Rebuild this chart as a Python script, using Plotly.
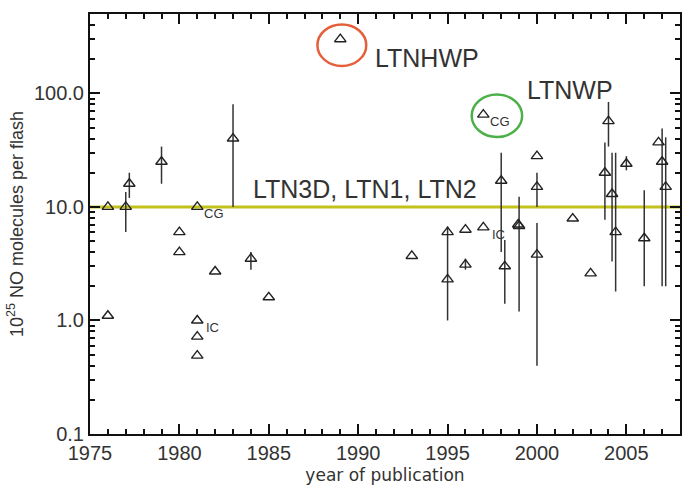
import math
import plotly.graph_objects as go

# ---- data ----
years = [1976.0, 1976.0, 1977.0, 1977.2, 1979.0, 1980.0, 1980.0, 1981.0, 1981.0, 1981.0,
         1981.0, 1982.0, 1983.0, 1984.0, 1985.0, 1989.0, 1993.0, 1995.0, 1995.0, 1996.0,
         1996.0, 1997.0, 1997.0, 1998.0, 1998.2, 1999.0, 1998.95, 2000.0, 2000.0, 2000.0,
         2002.0, 2003.0, 2003.8, 2004.0, 2004.2, 2004.4, 2005.0, 2006.0, 2006.8, 2007.0,
         2007.2]
values = [10, 1.1, 10, 16, 25, 6.0, 4.0, 10, 1.0, 0.72,
          0.49, 2.7, 40, 3.5, 1.6, 300, 3.7, 6.0, 2.3, 6.3,
          3.1, 6.6, 65, 17, 3.0, 6.8, 7.0, 28, 15, 3.8,
          7.9, 2.6, 20, 57, 13, 6.0, 24, 5.3, 37, 25,
          15]
low = [None, None, 6.0, 12, 16, None, None, None, None, None,
       None, None, 10, 2.8, None, None, None, None, 1.0, None,
       2.8, None, None, 4.0, 1.4, 1.2, None, None, 10, 0.4,
       None, None, 7.7, 34, 3.3, 1.8, 21, 2.0, None, 2.0,
       2.0]
high = [None, None, 13.5, 20, 34, None, None, None, None, None,
        None, None, 80, 4.0, None, None, None, None, 6.7, None,
        3.5, None, None, 30, 5.1, 12.3, None, None, 20, 7.2,
        None, None, 37, 84, 30, 30, 28, 14, None, 49,
        41]
tags = [""] * len(years)
tags[7] = "CG"
tags[8] = "IC"
tags[21] = "IC"
tags[22] = "CG"

reference_value = 10.0
x_range = [1975, 2008]
y_range_vals = [0.1, 500]
x_ticks = [1975, 1980, 1985, 1990, 1995, 2000, 2005]
y_ticks = [0.1, 1, 10, 100]
y_ticktext = ["0.1", "1.0", "10.0", "100.0"]
y_minor = [m * d for d in (0.1, 1, 10, 100) for m in range(2, 10) if m * d <= 500]

# ---- figure ----
err_plus = [(h - v) if h is not None else 0 for v, h in zip(values, high)]
err_minus = [(v - l) if l is not None else 0 for v, l in zip(values, low)]

fig = go.Figure()
fig.add_trace(go.Scatter(
    x=x_range, y=[reference_value, reference_value], mode="lines",
    line=dict(color="#c3c21c", width=3), hoverinfo="skip", showlegend=False))
fig.add_trace(go.Scatter(
    x=years, y=values, mode="markers",
    marker=dict(symbol="triangle-up-open", size=10, color="#222222",
                line=dict(width=1.4, color="#222222")),
    error_y=dict(type="data", symmetric=False, array=err_plus, arrayminus=err_minus,
                 width=0, thickness=1.5, color="#333333"),
    showlegend=False))

ann = []
for x, v, t in zip(years, values, tags):
    if t:
        ann.append(dict(x=x, y=math.log10(v), xref="x", yref="y", text=t, showarrow=False,
                        xanchor="center", yanchor="middle", xshift=17 if t == "CG" else 15,
                        yshift=-7, font=dict(family="Liberation Sans, Arial", size=13, color="#333")))

PL, PR, PT, PB = 90, 682, 13, 434
def px(xp):
    return (xp - PL) / (PR - PL)
def py(yp):
    return (PB - yp) / (PB - PT)

big = dict(family="Liberation Sans, Arial", size=25, color="#333333")
ann.append(dict(x=px(374), y=py(57), xref="paper", yref="paper", text="LTNHWP",
                showarrow=False, xanchor="left", yanchor="middle", font=big))
ann.append(dict(x=px(526), y=py(89), xref="paper", yref="paper", text="LTNWP",
                showarrow=False, xanchor="left", yanchor="middle", font=big))
ann.append(dict(x=px(252), y=py(188), xref="paper", yref="paper", text="LTN3D, LTN1, LTN2",
                showarrow=False, xanchor="left", yanchor="middle", font=big))

shapes = [
    dict(type="circle", xref="paper", yref="paper",
         x0=px(342.7 - 24.5), x1=px(342.7 + 24.5), y0=py(44.3 + 20.8), y1=py(44.3 - 20.8),
         line=dict(color="#e5603a", width=2.5)),
    dict(type="circle", xref="paper", yref="paper",
         x0=px(498.3 - 25.3), x1=px(498.3 + 25.3), y0=py(115 + 21.3), y1=py(115 - 21.3),
         line=dict(color="#4cb048", width=2.5)),
]

tickfont = dict(family="Liberation Sans, Arial", size=20, color="#333333")
fig.update_layout(
    width=694, height=494,
    margin=dict(l=PL, r=694 - PR, t=PT, b=494 - PB),
    paper_bgcolor="white", plot_bgcolor="white",
    annotations=ann, shapes=shapes,
    xaxis=dict(range=x_range, tickmode="array", tickvals=x_ticks,
               showline=True, linecolor="#111", linewidth=2, mirror="allticks",
               ticks="inside", ticklen=10, tickwidth=1.5, tickcolor="#111",
               minor=dict(ticks="inside", ticklen=5, tickwidth=1.5, tickcolor="#111", dtick=1),
               showgrid=False, zeroline=False, tickfont=tickfont,
               title=dict(text="year of publication", standoff=6,
                          font=dict(family="DejaVu Sans", size=17, color="#333333"))),
    yaxis=dict(type="log", range=[math.log10(y_range_vals[0]), math.log10(y_range_vals[1])],
               tickmode="array", tickvals=y_ticks, ticktext=y_ticktext,
               showline=True, linecolor="#111", linewidth=2, mirror="allticks",
               ticks="inside", ticklen=10, tickwidth=1.5, tickcolor="#111",
               minor=dict(ticks="inside", ticklen=5, tickwidth=1.5, tickcolor="#111",
                          tickmode="array", tickvals=y_minor),
               showgrid=False, zeroline=False, tickfont=tickfont,
               title=dict(text="10<sup>25</sup> NO molecules per flash", standoff=6,
                          font=dict(family="Liberation Sans, Arial", size=18, color="#333333"))),
)

fig.write_html("out.html")
